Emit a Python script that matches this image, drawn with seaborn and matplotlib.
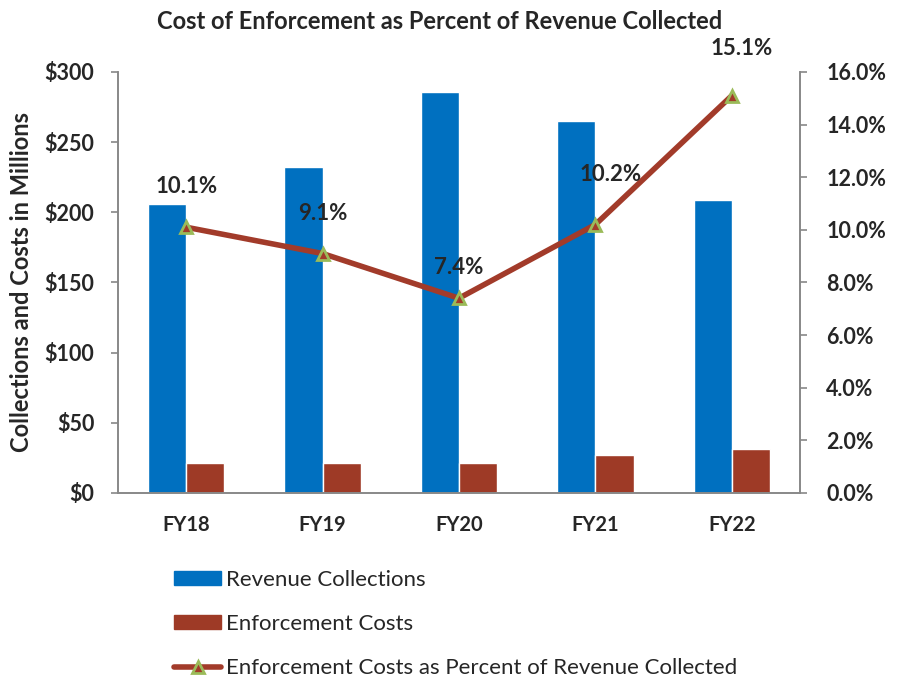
import pandas as pd
import matplotlib.pyplot as plt
import seaborn as sns
from matplotlib.lines import Line2D
from matplotlib.patches import Patch

years = ['FY18', 'FY19', 'FY20', 'FY21', 'FY22']
revenue = [206, 232, 286, 265, 209]
costs = [21, 21, 21, 27, 31]
pct = [10.1, 9.1, 7.4, 10.2, 15.1]
pct_labels = ['10.1%', '9.1%', '7.4%', '10.2%', '15.1%']

blue = '#0070C0'
red = '#9E3A26'
line_red = '#A23B2A'
green = '#9BBB59'

sns.set_style('white')
plt.rcParams['font.family'] = ['Lato', 'DejaVu Sans']

df = pd.DataFrame({
    'year': years * 2,
    'value': revenue + costs,
    'series': ['Revenue Collections'] * 5 + ['Enforcement Costs'] * 5,
})

fig = plt.figure(figsize=(9.07, 6.79), dpi=100)
ax = fig.add_axes([0.130, 0.274, 0.752, 0.620])

sns.barplot(data=df, x='year', y='value', hue='series', ax=ax,
            palette=[blue, red], width=0.56, saturation=1, gap=0)
ax.get_legend().remove()
ax.set_ylim(0, 300)
ax.set_xlim(-0.5, 4.5)
ax.set_yticks(range(0, 301, 50))
ax.set_yticklabels(['$%d' % v for v in range(0, 301, 50)],
                   fontsize=15.5, fontweight='bold')
ax.set_xlabel('')
ax.set_ylabel('Collections and Costs in Millions', fontsize=17,
              fontweight='bold', labelpad=8)
ax.set_xticks(range(5))
ax.set_xticklabels(years, fontsize=14.5, fontweight='bold')
ax.tick_params(axis='x', length=0, pad=16)
ax.set_xticks([i - 0.5 for i in range(6)], minor=True)
ax.tick_params(axis='x', which='minor', length=6, color='#888888', width=1.2)
ax.tick_params(axis='y', length=5, color='#888888', width=1.2, direction='out',
               left=True, pad=12)

ax2 = ax.twinx()
sns.pointplot(x=years, y=pct, ax=ax2, color=line_red, markers='^',
              linewidth=4, markersize=9)
for ln in ax2.lines:
    ln.set_markerfacecolor(line_red)
    ln.set_markeredgecolor(green)
    ln.set_markeredgewidth(2)
ax2.set_ylim(0, 16)
ax2.set_xlim(-0.5, 4.5)
ax2.set_yticks(range(0, 17, 2))
ax2.set_yticklabels(['%.1f%%' % v for v in range(0, 17, 2)],
                    fontsize=15.5, fontweight='bold')
ax2.tick_params(axis='y', length=5, color='#888888', width=1.2, direction='out',
                right=True, pad=14)

offsets = [(0, 29), (0, 29), (0, 22), (11, 36), (7, 34)]
for i, (v, lab) in enumerate(zip(pct, pct_labels)):
    ax2.annotate(lab, (i, v), xytext=offsets[i], textcoords='offset points',
                 ha='center', va='center', fontsize=16, fontweight='bold')

for a in (ax, ax2):
    for s in a.spines.values():
        s.set_color('#888888')
        s.set_linewidth(1.2)
    a.spines['top'].set_visible(False)

fig.suptitle('Cost of Enforcement as Percent of Revenue Collected',
             x=0.485, y=0.985, fontsize=17, fontweight='bold')

handles = [
    Patch(color=blue),
    Patch(color=red),
    Line2D([0], [0], color=line_red, linewidth=4, marker='^', markersize=9,
           markerfacecolor=line_red, markeredgecolor=green, markeredgewidth=2),
]
labels = ['Revenue Collections', 'Enforcement Costs',
          'Enforcement Costs as Percent of Revenue Collected']
fig.legend(handles, labels, loc='upper left', bbox_to_anchor=(0.17, 0.19),
           frameon=False, fontsize=16, labelspacing=1.08, handlelength=2.1,
           handletextpad=0.25, handleheight=0.6)

plt.savefig('out.png', dpi=100)
